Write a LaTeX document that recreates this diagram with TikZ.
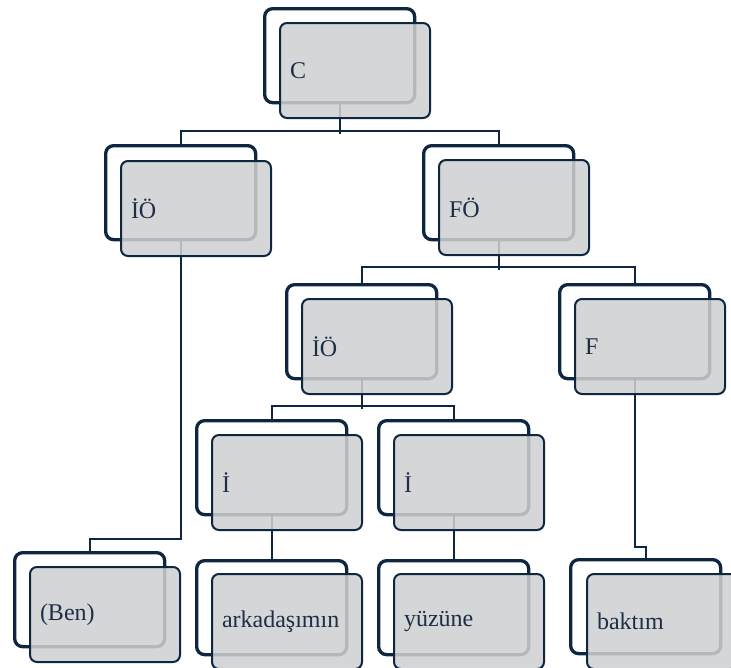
\documentclass[tikz,border=0pt]{standalone}
\usepackage{fontspec}
\setmainfont{Liberation Serif}
\definecolor{navy}{HTML}{0F2640}
\definecolor{boxgray}{HTML}{CFD0D2}
\definecolor{txt}{HTML}{1E2E46}
\tikzset{
  backbox/.style={draw=navy, line width=3.3pt, rounded corners=8pt, minimum width=150pt, minimum height=94pt, inner sep=0pt, anchor=north west},
  frontbox/.style={draw=navy, line width=2pt, rounded corners=7pt, fill=boxgray, fill opacity=0.86, text opacity=1, minimum width=150pt, minimum height=95pt, inner sep=0pt, text width=130pt, align=left, anchor=north west, font=\fontsize{24}{26}\selectfont, text=txt},
  conn/.style={draw=navy, line width=1.8pt}
}
\newcommand\twobox[4]{%
  \node[backbox] (#1b) at (#2,#3) {};
  \node[frontbox] (#1) at (#2+16,#3+15) {#4};
}
\begin{document}
\begin{tikzpicture}[x=1pt,y=-1pt]
\useasboundingbox (0,0) rectangle (731,667);
\fill[white] (0,0) rectangle (731,667);
\clip (0,0) rectangle (731,667);
% back frames first via coordinates, connectors drawn after back frames, before fronts
\node[backbox] (Cb) at (263,7) {};
\node[backbox] (IOab) at (104,144) {};
\node[backbox] (FOb) at (422,144) {};
\node[backbox] (IObb) at (285,283) {};
\node[backbox] (Fb) at (558,283) {};
\node[backbox] (Iab) at (195,419) {};
\node[backbox] (Ibb) at (377,419) {};
\node[backbox] (Benb) at (13,551) {};
\node[backbox] (Arkb) at (195,559) {};
\node[backbox] (Yuzb) at (377,559) {};
\node[backbox] (Bakb) at (569,558) {};
% connectors
\draw[conn] (Cb.south) -- ++(0,30);
\draw[conn] (IOab.north) -- ++(0,-13) -| (FOb.north);
\draw[conn] (FOb.south) -- ++(0,29);
\draw[conn] (IObb.north) -- ++(0,-16) -| (Fb.north);
\draw[conn] (IObb.south) -- ++(0,29);
\draw[conn] (Iab.north) -- ++(0,-13) -| (Ibb.north);
\draw[conn] (Iab.south) -- (Arkb.north);
\draw[conn] (Ibb.south) -- (Yuzb.north);
\draw[conn] (IOab.south) -- ++(0,298) -| (Benb.north);
\draw[conn] (Fb.south) -- ++(0,167) -| (Bakb.north);
% front boxes
\node[frontbox] (C) at (279,22) {C};
\node[frontbox] (IOa) at (120,160) {İÖ};
\node[frontbox] (FO) at (438,159) {FÖ};
\node[frontbox] (IOb) at (301,298) {İÖ};
\node[frontbox] (F) at (574,298) {F};
\node[frontbox] (Ia) at (211,434) {İ};
\node[frontbox] (Ib) at (393,434) {İ};
\node[frontbox] (Ben) at (29,566) {(Ben)};
\node[frontbox] (Ark) at (211,573) {arkadaşımın};
\node[frontbox] (Yuz) at (393,573) {yüzüne};
\node[frontbox] (Bak) at (586,573) {baktım};
\end{tikzpicture}
\end{document}
